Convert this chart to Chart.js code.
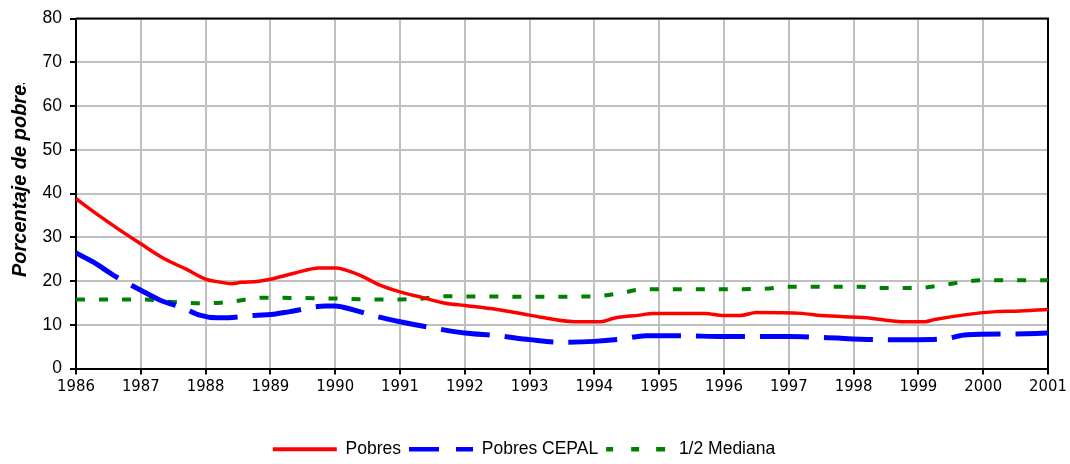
<!DOCTYPE html>
<html>
<head>
<meta charset="utf-8">
<script src="https://cdn.jsdelivr.net/npm/chart.js@4"></script>
<style>
  html, body { margin: 0; padding: 0; background: #fff; }
  #wrap { width: 1070px; height: 464px; }
</style>
</head>
<body>
<div id="wrap"><canvas id="grafico" width="1070" height="464"></canvas></div>
<script>
const tituloY = 'Porcentaje de pobres'
const etiquetas = ['Pobres', 'Pobres CEPAL', '1/2 Mediana']

const pobresAnios = [1986, 1986.35, 1986.7, 1987, 1987.35, 1987.7, 1988, 1988.2, 1988.4, 1988.55, 1988.8, 1989, 1989.35, 1989.75, 1990, 1990.35, 1990.7, 1991, 1991.35, 1991.7, 1992, 1992.5, 1993, 1993.7, 1994.1, 1994.3, 1994.7, 1994.9, 1995.7, 1996, 1996.25, 1996.5, 1997.2, 1997.5, 1998.2, 1998.75, 1999.1, 1999.25, 2000.2, 2000.5, 2001]
const pobres = [38.8, 35.0, 31.4, 28.5, 25.2, 22.7, 20.4, 19.8, 19.4, 19.7, 19.9, 20.4, 21.7, 23.0, 23.0, 21.5, 19.0, 17.5, 16.2, 14.9, 14.4, 13.5, 12.2, 10.7, 10.7, 11.5, 12.2, 12.6, 12.6, 12.1, 12.1, 12.8, 12.6, 12.1, 11.6, 10.7, 10.7, 11.2, 13.0, 13.1, 13.5]

const cepalAnios = [1986, 1986.27, 1986.58, 1987, 1987.3, 1987.66, 1987.91, 1988.17, 1988.35, 1988.63, 1989.05, 1989.3, 1989.85, 1990, 1990.28, 1990.64, 1991, 1991.46, 1992, 1992.5, 1993, 1993.47, 1994, 1994.4, 1994.8, 1995.3, 1996, 1997, 1997.5, 1998.45, 1999, 1999.4, 1999.75, 2000.45, 2001]
const pobresCepal = [26.4, 24.3, 21.3, 17.9, 15.6, 13.8, 12.2, 11.6, 11.6, 12.0, 12.4, 13.0, 14.3, 14.3, 13.4, 11.9, 10.7, 9.4, 8.1, 7.5, 6.6, 6.0, 6.2, 6.7, 7.5, 7.5, 7.3, 7.3, 7.1, 6.6, 6.6, 6.8, 7.7, 7.9, 8.1]

const medianaAnios = [1986, 1987.05, 1987.4, 1988, 1988.4, 1988.9, 1989.5, 1990, 1990.5, 1991, 1991.35, 1991.7, 1993, 1994, 1994.4, 1994.75, 1996, 1996.7, 1997, 1998.1, 1998.35, 1999, 1999.35, 1999.7, 2000, 2001]
const mediana = [15.8, 15.8, 15.3, 14.9, 15.3, 16.2, 16.1, 16.0, 15.8, 15.8, 16.0, 16.5, 16.4, 16.5, 17.2, 18.1, 18.1, 18.3, 18.7, 18.7, 18.4, 18.4, 19.0, 19.8, 20.2, 20.2]

const ejeX = { min: 1986, max: 2001, paso: 1 }
const ejeY = { min: 0, max: 80, paso: 10 }

const puntos = (xs, ys) => xs.map((x, i) => ({ x, y: ys[i] }))

// dash shown in the legend sample differs from the one on the line
const guionLeyenda = [[], [30, 17, 19, 20], [7, 18, 8, 17, 9, 10]]

const marco = {
    id: 'marco',
    beforeDatasetsDraw(chart) {
        const { ctx, chartArea: a } = chart
        ctx.save()
        ctx.strokeStyle = '#000'
        ctx.lineWidth = 2
        ctx.beginPath()
        ctx.moveTo(a.left, a.top)
        ctx.lineTo(a.right, a.top)
        ctx.lineTo(a.right, a.bottom)
        ctx.stroke()
        ctx.restore()
    },
    afterDraw(chart) {
        const { ctx } = chart
        ctx.save()
        ctx.beginPath()
        ctx.rect(0, 83, 60, 300)
        ctx.clip()
        ctx.translate(26, 277)
        ctx.rotate(-Math.PI / 2)
        ctx.font = 'italic bold 20px "Liberation Sans", Arial, sans-serif'
        ctx.fillStyle = '#000'
        ctx.textAlign = 'left'
        ctx.textBaseline = 'alphabetic'
        ctx.fillText(tituloY, 0, 0)
        ctx.restore()
    }
}

const ctx = document.getElementById('grafico').getContext('2d')

new Chart(ctx, {
    type: 'line',
    data: {
        datasets: [
            {
                label: etiquetas[0],
                data: puntos(pobresAnios, pobres),
                borderColor: '#ff0000',
                backgroundColor: '#ff0000',
                borderWidth: 3.5,
            },
            {
                label: etiquetas[1],
                data: puntos(cepalAnios, pobresCepal),
                borderColor: '#0000ff',
                backgroundColor: '#0000ff',
                borderWidth: 5,
                borderDash: [49, 15],
            },
            {
                label: etiquetas[2],
                data: puntos(medianaAnios, mediana),
                borderColor: '#008000',
                backgroundColor: '#008000',
                borderWidth: 4,
                borderDash: [9, 14],
            },
        ],
    },
    options: {
        responsive: false,
        animation: false,
        elements: {
            point: { radius: 0 },
            line: { cubicInterpolationMode: 'monotone', borderCapStyle: 'butt' },
        },
        layout: { padding: { left: 0, right: 22, top: 16, bottom: -4 } },
        plugins: {
            tooltip: { enabled: false },
            legend: {
                position: 'bottom',
                labels: {
                    usePointStyle: true,
                    pointStyle: 'line',
                    pointStyleWidth: 64,
                    padding: 8,
                    color: '#000',
                    font: { family: '"Liberation Sans", Arial, sans-serif', size: 17.5 },
                    generateLabels: (chart) =>
                        Chart.defaults.plugins.legend.labels.generateLabels(chart).map((it, i) => {
                            it.lineDash = guionLeyenda[i]
                            it.lineWidth = i === 0 ? 4 : 4.5
                            return it
                        }),
                },
            },
        },
        scales: {
            x: {
                type: 'linear',
                min: ejeX.min,
                max: ejeX.max,
                afterFit: (s) => { s.height = 64 },
                ticks: {
                    stepSize: ejeX.paso,
                    color: '#000',
                    padding: 2,
                    maxRotation: 0,
                    font: { family: '"DejaVu Sans Condensed", sans-serif', size: 16.5 },
                    callback: (v) => String(v),
                },
                grid: { color: '#c0c0c0', lineWidth: 2, tickColor: '#000', tickLength: 6 },
                border: { color: '#000', width: 2 },
            },
            y: {
                min: ejeY.min,
                max: ejeY.max,
                afterFit: (s) => { s.width = 76 },
                ticks: {
                    stepSize: ejeY.paso,
                    color: '#000',
                    padding: 8,
                    font: { family: '"Liberation Sans", Arial, sans-serif', size: 17.5 },
                },
                grid: { color: '#c0c0c0', lineWidth: 2, tickColor: '#000', tickLength: 6 },
                border: { color: '#000', width: 2 },
            },
        },
    },
    plugins: [marco],
});
</script>
</body>
</html>
